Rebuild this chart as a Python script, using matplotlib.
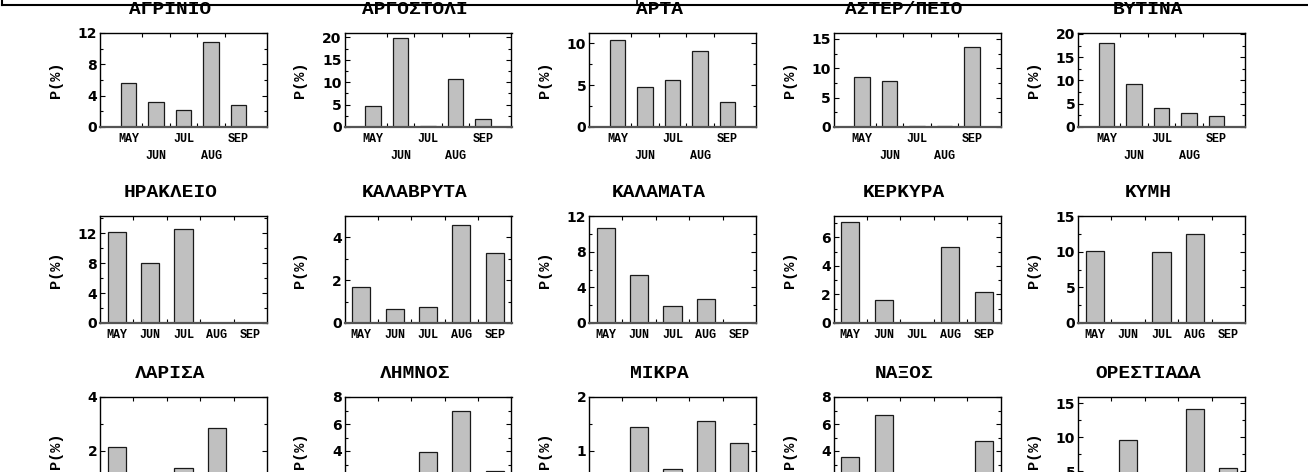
import numpy as np
import matplotlib
matplotlib.use("Agg")
import matplotlib.pyplot as plt
from matplotlib.lines import Line2D
from matplotlib.ticker import AutoMinorLocator

# ---------------- data ----------------
months = ["MAY", "JUN", "JUL", "AUG", "SEP"]
stations = ["ΑΓΡΙΝΙΟ", "ΑΡΓΟΣΤΟΛΙ", "ΑΡΤΑ", "ΑΣΤΕΡ/ΠΕΙΟ", "ΒΥΤΙΝΑ",
            "ΗΡΑΚΛΕΙΟ", "ΚΑΛΑΒΡΥΤΑ", "ΚΑΛΑΜΑΤΑ", "ΚΕΡΚΥΡΑ", "ΚΥΜΗ",
            "ΛΑΡΙΣΑ", "ΛΗΜΝΟΣ", "ΜΙΚΡΑ", "ΝΑΞΟΣ", "ΟΡΕΣΤΙΑΔΑ"]

agrinio    = [5.6, 3.2, 2.2, 10.8, 2.8]
argostoli  = [4.7, 19.9, 0.15, 10.7, 1.7]
arta       = [10.4, 4.8, 5.6, 9.1, 3.0]
asterpeio  = [8.5, 7.8, 0.1, 0.1, 13.6]
vytina     = [18.1, 9.2, 4.1, 3.0, 2.4]
irakleio   = [12.15, 8.0, 12.5, 0.0, 0.0]
kalavryta  = [1.67, 0.65, 0.75, 4.56, 3.29]
kalamata   = [10.7, 5.4, 1.9, 2.7, 0.0]
kerkyra    = [7.05, 1.6, 0.0, 5.3, 2.2]
kymi       = [10.05, 0.0, 10.0, 12.5, 0.0]
larisa     = [2.15, 0.6, 1.37, 2.85, 0.9]
limnos     = [1.2, 0.8, 3.93, 6.96, 2.5]
mikra      = [0.3, 1.45, 0.67, 1.56, 1.15]
naxos      = [3.55, 6.67, 1.5, 2.0, 4.74]
orestiada  = [2.5, 9.6, 3.0, 14.1, 5.4]

series = [agrinio, argostoli, arta, asterpeio, vytina,
          irakleio, kalavryta, kalamata, kerkyra, kymi,
          larisa, limnos, mikra, naxos, orestiada]

y_top = [12, 21, 11.2, 16, 20.2,
         14.3, 5.0, 12, 7.5, 15,
         4, 8, 2, 8, 15.9]
y_ticks = [[0, 4, 8, 12], [0, 5, 10, 15, 20], [0, 5, 10], [0, 5, 10, 15], [0, 5, 10, 15, 20],
           [0, 4, 8, 12], [0, 2, 4], [0, 4, 8, 12], [0, 2, 4, 6], [0, 5, 10, 15],
           [0, 2, 4], [0, 2, 4, 6, 8], [0, 1, 2], [0, 2, 4, 6, 8], [0, 5, 10, 15]]

# ---------------- layout ----------------
W, H = 1308, 472
fig = plt.figure(figsize=(W / 100, H / 100), dpi=100)

col_left = [100 + 244.5 * i for i in range(5)]
row_top = [33, 216, 397]
row_h = [94, 107, 108]
axw = 167

mono = "Liberation Mono"

for idx, (name, vals) in enumerate(zip(stations, series)):
    r, c = divmod(idx, 5)
    ax = fig.add_axes([col_left[c] / W, (H - row_top[r] - row_h[r]) / H,
                       axw / W, row_h[r] / H])
    x = np.arange(1, len(months) + 1)
    if r == 0:
        width = 0.55
        ax.set_xlim(-0.036, 6.036)
        labels = [m if i % 2 == 0 else "\n" + m for i, m in enumerate(months)]
    else:
        width = 0.54
        ax.set_xlim(0.5, 5.5)
        labels = months
    if r == 2:
        # the bottom row is cropped in the reference: its month labels are off-canvas
        labels = [""] * len(months)
    ax.bar(x, vals, width, color="#c0c0c0", edgecolor="#1a1a1a",
           linewidth=0.9, zorder=2)
    ax.set_ylim(0, y_top[idx])
    yt = y_ticks[idx]
    ax.set_yticks(yt)
    if r == 2:
        # hide tick labels that fall below the cropped canvas edge
        ylabs = []
        for v in yt:
            ypix = row_top[r] + (1 - v / y_top[idx]) * row_h[r]
            ylabs.append(str(v) if ypix <= 472 else "")
        ax.set_yticklabels(ylabs)
    ax.yaxis.set_minor_locator(AutoMinorLocator(2))
    ax.set_xticks(x)
    ax.set_xticklabels(labels, fontfamily=mono, fontweight="bold", fontsize=8.5,
                       linespacing=1.55)
    ax.set_xticks([1.5, 2.5, 3.5, 4.5], minor=True)
    ax.tick_params(axis="x", which="major", length=0, pad=4)
    ax.tick_params(axis="x", which="minor", direction="in", length=3,
                   top=True, bottom=True, width=0.8)
    ax.tick_params(axis="y", which="major", direction="in", length=3.5,
                   left=True, right=True, pad=2, width=0.8)
    ax.tick_params(axis="y", which="minor", direction="in", length=2,
                   left=True, right=True, width=0.8)
    for lab in ax.get_yticklabels():
        lab.set_fontfamily("DejaVu Sans")
        lab.set_fontweight("bold")
        lab.set_fontsize(10)
    for s in ("left", "right", "top"):
        ax.spines[s].set_color("black")
        ax.spines[s].set_linewidth(1.0)
    ax.spines["bottom"].set_color("#555555")
    ax.spines["bottom"].set_linewidth(1.6)
    ax.set_title(name, x=0.42, pad=13.5, fontfamily=mono, fontweight="bold",
                 fontsize=14)
    ax.set_ylabel("P(%)", fontfamily=mono, fontweight="bold", fontsize=11)
    ax.yaxis.set_label_coords(-37 / axw, 0.5)

# frame fragment of the figure above (cropped)
yl = 1 - 4.5 / H
fig.add_artist(Line2D([2 / W, 1], [yl, yl], transform=fig.transFigure,
                      color="black", lw=1.5))
fig.add_artist(Line2D([2 / W, 2 / W], [yl, 1], transform=fig.transFigure,
                      color="black", lw=1.5))
fig.add_artist(Line2D([637 / W, 637 / W], [yl, 1], transform=fig.transFigure,
                      color="black", lw=1.2))

fig.savefig("out.png", dpi=100)
